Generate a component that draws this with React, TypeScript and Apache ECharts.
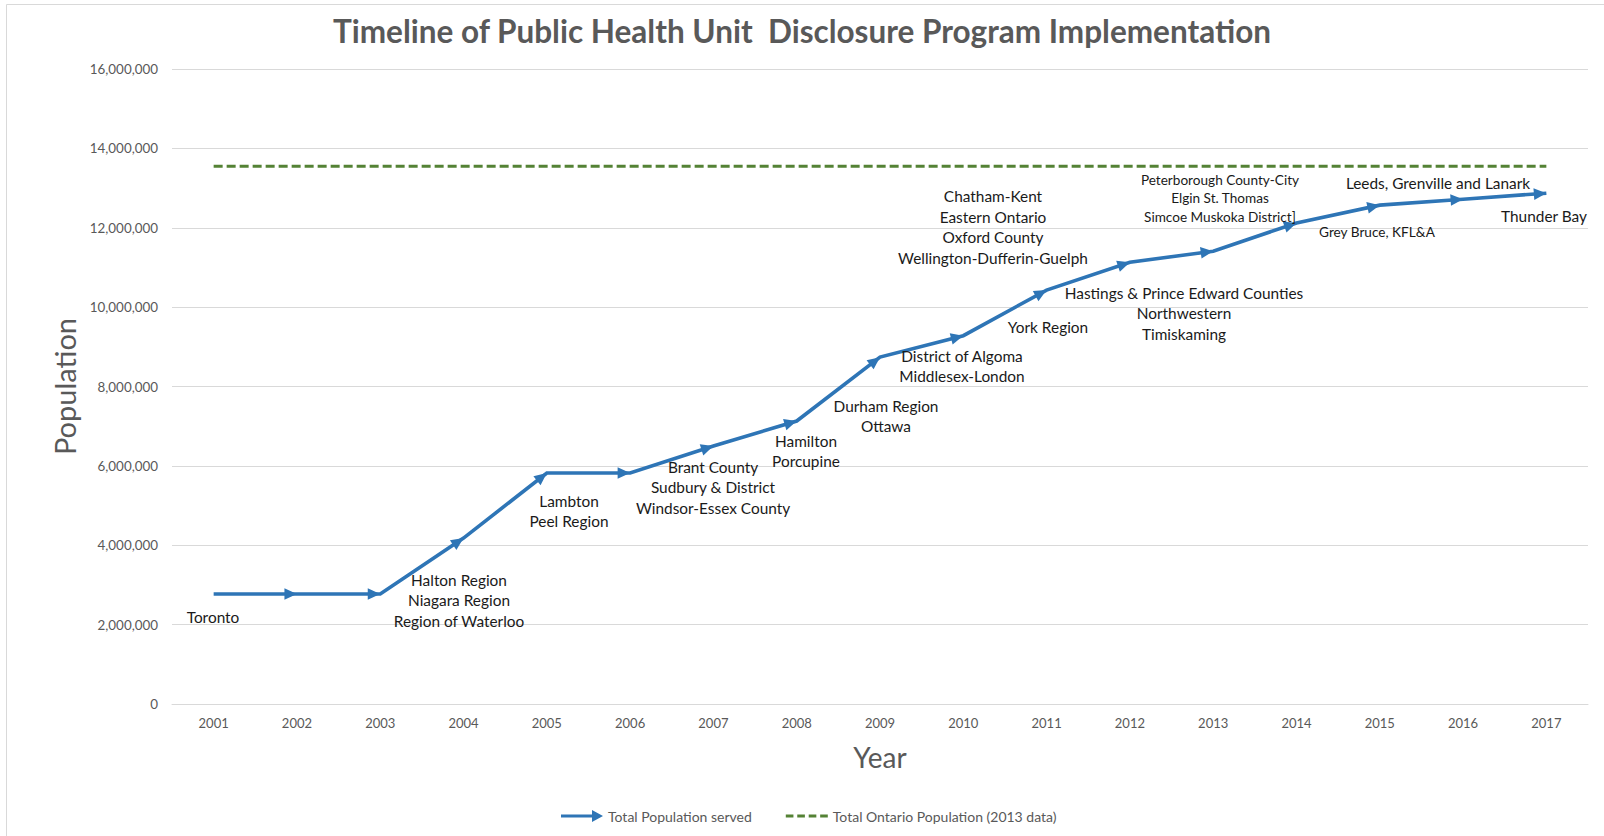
import React, { useEffect, useRef } from "react";
import * as echarts from "echarts";

const years = ["2001","2002","2003","2004","2005","2006","2007","2008","2009","2010","2011","2012","2013","2014","2015","2016","2017"];
const populationServed = [2770000, 2770000, 2770000, 4180000, 5820000, 5820000, 6500000, 7130000, 8740000, 9280000, 10430000, 11130000, 11410000, 12120000, 12570000, 12720000, 12870000];
const ontarioPopulation = 13550000;
const ontarioSeries = years.map(() => ontarioPopulation);

const titleText = "Timeline of Public Health Unit  Disclosure Program Implementation";
const seriesNames = ["Total Population served", "Total Ontario Population (2013 data)"];

const annotationTexts: string[][] = [
  ["Toronto"],
  ["Halton Region", "Niagara Region", "Region of Waterloo"],
  ["Lambton", "Peel Region"],
  ["Brant County", "Sudbury & District", "Windsor-Essex County"],
  ["Hamilton", "Porcupine"],
  ["Durham Region", "Ottawa"],
  ["District of Algoma", "Middlesex-London"],
  ["Chatham-Kent", "Eastern Ontario", "Oxford County", "Wellington-Dufferin-Guelph"],
  ["York Region"],
  ["Hastings & Prince Edward Counties", "Northwestern", "Timiskaming"],
  ["Peterborough County-City", "Elgin St. Thomas", "Simcoe Muskoka District]"],
  ["Leeds, Grenville and Lanark"],
  ["Grey Bruce, KFL&A"],
  ["Thunder Bay"],
];

// layout (pixel centres) for the annotation blocks
const annotationLayout = [
  { x: 213, y: 617, size: 15.4, lh: 20.5 },
  { x: 459, y: 600, size: 15.4, lh: 20.5 },
  { x: 569, y: 511, size: 15.4, lh: 20.5 },
  { x: 713, y: 487, size: 15.4, lh: 20.5 },
  { x: 806, y: 451, size: 15.4, lh: 20.5 },
  { x: 886, y: 416, size: 15.4, lh: 20.5 },
  { x: 962, y: 366, size: 15.4, lh: 20.5 },
  { x: 993, y: 227, size: 15.4, lh: 20.5 },
  { x: 1048, y: 327, size: 15.4, lh: 20.5 },
  { x: 1184, y: 313, size: 15.4, lh: 20.5 },
  { x: 1220, y: 198, size: 13.6, lh: 18.5 },
  { x: 1438, y: 183, size: 15.4, lh: 20.5 },
  { x: 1377, y: 232, size: 13.6, lh: 18.5 },
  { x: 1544, y: 216, size: 15.4, lh: 20.5 },
];

const BLUE = "#2E75B6";
const GREEN = "#548235";
const GRAY = "#595959";
const FONT = "Lato, 'Open Sans', sans-serif";

export default function App() {
  const ref = useRef<HTMLDivElement>(null);
  useEffect(() => {
    document.body.style.margin = "0";
    if (!ref.current) return;
    const chart = echarts.init(ref.current, null, { renderer: "svg" });

    const graphics: any[] = [
      {
        type: "rect",
        shape: { x: 6.5, y: 4.5, width: 1700, height: 900 },
        style: { fill: "none", stroke: "#d9d9d9", lineWidth: 1 },
        silent: true,
        z: -10,
      },
    ];
    annotationTexts.forEach((lines, i) => {
      const l = annotationLayout[i];
      graphics.push({
        type: "text",
        x: l.x,
        y: l.y,
        z: 50,
        style: {
          text: lines.join("\n"),
          fill: "#1a1a1a",
          fontSize: l.size,
          fontFamily: FONT,
          lineHeight: l.lh,
          align: "center",
          verticalAlign: "middle",
        },
      });
    });

    const option: any = {
      animation: false,
      backgroundColor: "#ffffff",
      title: {
        text: titleText,
        left: "center",
        top: 15,
        padding: 0,
        textStyle: { fontFamily: FONT, fontWeight: "bold", fontSize: 31.5, color: GRAY },
      },
      grid: { left: 172, right: 16, top: 69, bottom: 132, containLabel: false },
      legend: {
        left: 556,
        top: 804,
        itemWidth: 42,
        itemHeight: 14,
        itemGap: 34,
        textStyle: { fontFamily: FONT, fontSize: 14, color: GRAY },
        data: [
          { name: seriesNames[0], icon: "path://M0,5.5L31,5.5L31,1L42,7L31,13L31,8.5L0,8.5Z", itemStyle: { color: BLUE } },
          {
            name: seriesNames[1],
            icon: "path://M0,0L0.01,0L0,0.01Z M0,14L0.01,14L0,13.99Z M0,5.5h8v3h-8z M12,5.5h8v3h-8z M24,5.5h8v3h-8z M36,5.5h8v3h-8z",
            itemStyle: { color: GREEN },
          },
        ],
      },
      xAxis: {
        type: "category",
        data: years,
        boundaryGap: true,
        name: "Year",
        nameLocation: "middle",
        nameGap: 39,
        nameTextStyle: { fontFamily: FONT, fontSize: 28, color: GRAY },
        axisTick: { show: false },
        axisLine: { lineStyle: { color: "#d9d9d9" } },
        axisLabel: { margin: 12, fontFamily: FONT, fontSize: 13, color: GRAY },
      },
      yAxis: {
        type: "value",
        min: 0,
        max: 16000000,
        interval: 2000000,
        name: "Population",
        nameLocation: "middle",
        nameGap: 92,
        nameTextStyle: { fontFamily: FONT, fontSize: 29, color: GRAY },
        axisLine: { show: false },
        axisTick: { show: false },
        splitLine: { lineStyle: { color: "#d9d9d9" } },
        axisLabel: {
          margin: 14,
          fontFamily: FONT,
          fontSize: 13.4,
          color: GRAY,
          formatter: (v: number) => v.toLocaleString("en-US"),
        },
      },
      series: [
        {
          name: seriesNames[1],
          type: "line",
          data: ontarioSeries,
          symbol: "none",
          lineStyle: { color: GREEN, width: 3, type: [9, 4] },
          itemStyle: { color: GREEN },
          z: 2,
        },
        {
          name: seriesNames[0],
          type: "line",
          data: populationServed,
          symbol: "none",
          lineStyle: { color: BLUE, width: 3.6, cap: "butt", join: "miter" },
          itemStyle: { color: BLUE },
          z: 3,
        },
        {
          name: seriesNames[0],
          type: "custom",
          data: populationServed.map((v, i) => [i, v]),
          itemStyle: { color: BLUE },
          z: 4,
          renderItem: (params: any, api: any) => {
            const i = params.dataIndex;
            if (i === 0) return null;
            const p2 = api.coord([i, populationServed[i]]);
            const p1 = api.coord([i - 1, populationServed[i - 1]]);
            const dx = p2[0] - p1[0];
            const dy = p2[1] - p1[1];
            const len = Math.sqrt(dx * dx + dy * dy) || 1;
            const ux = dx / len, uy = dy / len;
            const L = 12.5, W = 5.8;
            const bx = p2[0] - ux * L, by = p2[1] - uy * L;
            return {
              type: "polygon",
              shape: {
                points: [
                  [p2[0], p2[1]],
                  [bx - uy * W, by + ux * W],
                  [bx + uy * W, by - ux * W],
                ],
              },
              style: { fill: BLUE },
            };
          },
        },
      ],
      graphic: graphics,
    };
    chart.setOption(option);
    return () => chart.dispose();
  }, []);
  return <div ref={ref} style={{ width: 1604, height: 836 }} />;
}
